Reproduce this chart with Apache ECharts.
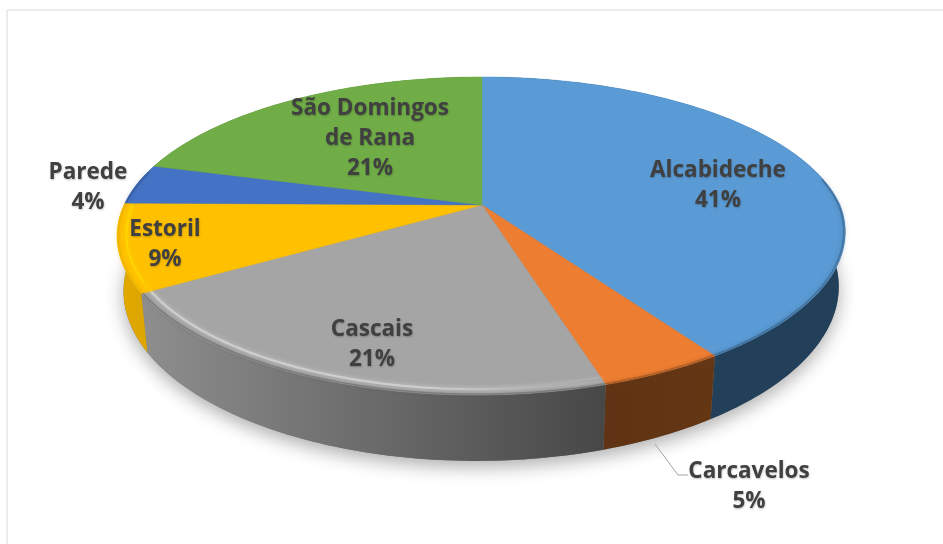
<!DOCTYPE html>
<html>
<head>
<meta charset="utf-8">
<script src="https://cdn.jsdelivr.net/npm/echarts@6/dist/echarts.min.js"></script>
<style>
html, body { margin: 0; padding: 0; background: #fff; }
#chart { width: 943px; height: 544px; }
</style>
</head>
<body>
<div id="chart"></div>
<script>
// data (the labels show them rounded)
const names = ['Alcabideche', 'Carcavelos', 'Cascais', 'Estoril', 'Parede', 'São Domingos\nde Rana'];
const shares = [40.5, 4.7, 21.1, 8.9, 4.1, 20.7];

// colours per slice
const topColors = ['#5b9bd5', '#ed7d31', '#a5a5a5', '#ffc000', '#4472c4', '#70ad47'];
const rimColors = ['#5b9bd5', '#ed7d31', '#cfcfcf', '#ffd400', '#4472c4', '#70ad47'];
const wallFrom = ['#23405a', '#5f3313', '#8e8e8e', '#e2a900', '#2a4578', '#44692c'];
const wallTo = ['#23405a', '#643614', '#474747', '#dda600', '#2a4578', '#44692c'];

// label centres, in page pixels
const labelAt = [[718, 186], [749, 487], [372, 345], [165, 245], [88, 188], [370, 139]];

// perspective of the disc: apex, radii, tilt, near side lean, thickness
const cx = 482, cy = 205, rx = 358, ry = 153, tilt = 0.195, lean = 0.06, depth = 53;
const total = shares.reduce((a, b) => a + b, 0);

function topPoint(deg, r) {
    const t = deg * Math.PI / 180;
    const u = Math.sin(t) * r, v = Math.cos(t) * r;
    const s = 1 / (1 + tilt * v);
    const y = cy - ry * v * s;
    return [cx + rx * u * s - lean * Math.max(0, y - cy) * (0.5 + 0.5 * u), y];
}

function bottomPoint(deg) {
    const t = deg * Math.PI / 180;
    const s = 1 / (1 + tilt * Math.cos(t));
    const p = topPoint(deg, 1);
    return [cx + (p[0] - cx) * 0.982, p[1] + depth * s];
}

function sliceRange(i) {
    let before = 0;
    for (let k = 0; k < i; k++) before += shares[k];
    return [before / total * 360, (before + shares[i]) / total * 360];
}

function arc(from, to, fn) {
    const pts = [];
    const n = Math.max(2, Math.ceil(Math.abs(to - from)));
    for (let k = 0; k <= n; k++) pts.push(fn(from + (to - from) * k / n));
    return pts;
}

function renderWall(params) {
    const [a0, a1] = sliceRange(params.dataIndex);
    const rim = arc(a0, a1, d => topPoint(d, 1));
    const low = arc(a1, a0, bottomPoint);
    const xs = rim.map(p => p[0]);
    return {
        type: 'polygon',
        shape: { points: rim.concat(low) },
        style: {
            fill: {
                type: 'linear', global: true,
                x: Math.min(...xs), y: 0, x2: Math.max(...xs), y2: 0,
                colorStops: [
                    { offset: 0, color: wallFrom[params.dataIndex] },
                    { offset: 1, color: wallTo[params.dataIndex] }
                ]
            }
        }
    };
}

function renderTop(params) {
    const i = params.dataIndex;
    const [a0, a1] = sliceRange(i);
    const rim = arc(a0, a1, d => topPoint(d, 1));
    const children = [{
        type: 'polygon',
        shape: { points: [[cx, cy]].concat(rim) },
        style: { fill: topColors[i], stroke: topColors[i], lineWidth: 0.5 }
    }];
    // the bevel only shows on the near side of the disc
    const from = Math.max(a0, 80), to = Math.min(a1, 283);
    if (to > from) {
        const inner = arc(from, to, d => topPoint(d, 0.975));
        const xs = inner.map(p => p[0]);
        children.push({
            type: 'polyline',
            shape: { points: arc(from, to, d => topPoint(d, 0.996)) },
            style: { fill: null, stroke: wallTo[i], lineWidth: 1.5, opacity: 0.4, shadowBlur: 5, shadowColor: wallTo[i] }
        });
        children.push({
            type: 'polyline',
            shape: { points: inner },
            style: {
                fill: null, lineWidth: 2, shadowBlur: 4, shadowColor: rimColors[i],
                // the highlight dies away to the right
                stroke: {
                    type: 'linear', global: true,
                    x: Math.min(...xs), y: 0, x2: Math.max(...xs), y2: 0,
                    colorStops: [
                        { offset: 0, color: rimColors[i] },
                        { offset: 0.6, color: rimColors[i] },
                        { offset: 1, color: topColors[i] }
                    ]
                }
            }
        });
    }
    return { type: 'group', children };
}

function renderLabel(params) {
    const i = params.dataIndex;
    return {
        type: 'text',
        style: {
            text: names[i] + '\n' + Math.round(shares[i]) + '%',
            x: labelAt[i][0],
            y: labelAt[i][1],
            align: 'center',
            verticalAlign: 'middle',
            font: 'bold 22.5px "Open Sans"',
            lineHeight: 30,
            fill: '#404040',
            textShadowColor: 'rgba(0,0,0,0.25)',
            textShadowBlur: 2,
            textShadowOffsetX: 0.5,
            textShadowOffsetY: 0.5
        }
    };
}

const chart = echarts.init(document.getElementById('chart'), null, { renderer: 'canvas' });
const seriesData = shares.map((v, i) => ({ name: names[i], value: v }));

chart.setOption({
    animation: false,
    backgroundColor: '#fff',
    graphic: [
        { type: 'line', shape: { x1: 7, y1: 10, x2: 7, y2: 544 }, style: { stroke: '#ebebeb', lineWidth: 2 } },
        { type: 'line', shape: { x1: 7, y1: 10, x2: 943, y2: 10 }, style: { stroke: '#ebebeb', lineWidth: 2 } },
        // Carcavelos leader line
        {
            type: 'polyline', z: 5,
            shape: { points: [[655, 444], [678, 475], [688, 475]] },
            style: { fill: null, stroke: '#a6a6a6', lineWidth: 1 }
        }
    ],
    series: [
        {
            // soft shadow under the disc
            type: 'custom', coordinateSystem: 'none', silent: true, z: 1,
            data: [total],
            renderItem: () => ({
                type: 'polygon',
                shape: { points: arc(0, 360, bottomPoint) },
                style: { fill: '#777', shadowBlur: 18, shadowColor: 'rgba(0,0,0,0.32)', shadowOffsetY: 6 }
            })
        },
        { type: 'custom', coordinateSystem: 'none', silent: true, z: 2, data: seriesData, renderItem: renderWall },
        { type: 'custom', coordinateSystem: 'none', silent: true, z: 3, data: seriesData, renderItem: renderTop },
        { type: 'custom', coordinateSystem: 'none', silent: true, z: 4, data: seriesData, renderItem: renderLabel }
    ]
});
window.addEventListener('resize', () => chart.resize());
</script>
</body>
</html>
